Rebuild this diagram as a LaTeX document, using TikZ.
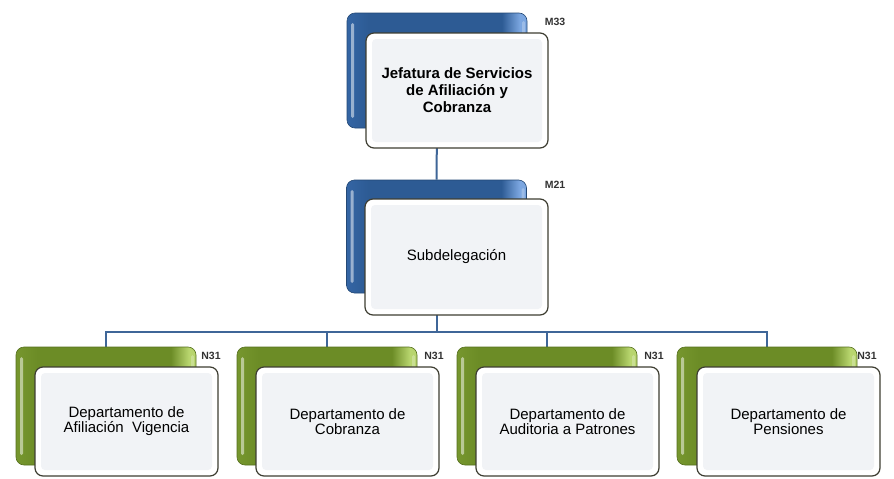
\documentclass[tikz,border=0pt]{standalone}
\usepackage{fontspec}
\setmainfont{Liberation Sans}
\pgfdeclarelayer{background}
\pgfsetlayers{background,main}
\definecolor{blueL}{HTML}{3465A4}
\definecolor{blueM}{HTML}{2D5B94}
\definecolor{blueR}{HTML}{7BA6E0}
\definecolor{greenL}{HTML}{76962E}
\definecolor{greenM}{HTML}{6C8C26}
\definecolor{greenR}{HTML}{B8D56E}
\definecolor{frameC}{HTML}{3E3E32}
\definecolor{innerC}{HTML}{F1F3F6}
\definecolor{lineC}{HTML}{3F6698}
\definecolor{lblC}{HTML}{333333}
\pgfdeclarehorizontalshading{bluesh}{100bp}{color(0bp)=(blueL); color(25bp)=(blueL);
  color(31bp)=(blueM); color(68bp)=(blueM); color(73bp)=(blueR); color(100bp)=(blueR)}
\pgfdeclarehorizontalshading{greensh}{100bp}{color(0bp)=(greenL); color(25bp)=(greenL);
  color(31bp)=(greenM); color(68bp)=(greenM); color(73bp)=(greenR); color(100bp)=(greenR)}
\begin{document}
\begin{tikzpicture}[x=1pt,y=-1pt,
  gloss/.style={path picture={
      \fill[white,opacity=0.5,rounded corners=1.5pt]
        ([xshift=4pt,yshift=-10pt]path picture bounding box.north west) rectangle
        ([xshift=7pt,yshift=10pt]path picture bounding box.south west);
      \fill[white,opacity=0.25,rounded corners=1.5pt]
        ([xshift=-5pt,yshift=-8pt]path picture bounding box.north east) rectangle
        ([xshift=-2pt,yshift=8pt]path picture bounding box.south east);}},
  bluebox/.style={gloss, rounded corners=8pt, inner sep=0pt, minimum width=180pt,
      minimum height=115pt, draw=blueM!80!black, line width=0.6pt, shading=bluesh},
  greenbox/.style={gloss, rounded corners=8pt, inner sep=0pt, minimum width=180pt,
      minimum height=118pt, draw=greenM!80!black, line width=0.6pt, shading=greensh},
  whitebox/.style={rounded corners=8pt, inner sep=0pt, minimum width=182pt,
      minimum height=115pt, draw=frameC, line width=1.2pt, fill=white, align=center,
      path picture={\fill[innerC,rounded corners=4pt]
        ([shift={(6pt,-6pt)}]path picture bounding box.north west) rectangle
        ([shift={(-6pt,6pt)}]path picture bounding box.south east);}},
  deptbox/.style={whitebox, minimum width=183pt, minimum height=109pt,
      font=\fontsize{15}{15}\selectfont},
  lbl/.style={font=\bfseries\fontsize{10.5}{12}\selectfont, text=lblC, inner sep=0pt},
  conn/.style={draw=lineC, line width=2pt}]
\useasboundingbox (0,0) rectangle (894,479);

% top
\node[bluebox] (b1) at (437,70.5) {};
\node[whitebox, font=\bfseries\fontsize{15}{17}\selectfont] (w1) at (457,90.5)
  {Jefatura de Servicios\\de Afiliación y\\Cobranza};
\node[lbl] (m33) at (555,22) {M33};

% middle
\node[bluebox, minimum height=113pt] (b2) at (436.5,236.5) {};
\node[whitebox, minimum width=183pt, minimum height=116pt,
      font=\fontsize{15}{17}\selectfont] (w2) at (456.5,257) {Subdelegación};
\node[lbl] (m21) at (555,185) {M21};

% bottom
\node[greenbox] (g1) at (106,406) {};
\node[greenbox] (g2) at (327,406) {};
\node[greenbox] (g3) at (547,406) {};
\node[greenbox] (g4) at (767,406) {};
\node[deptbox] (d1) at (126.5,421.5) {Departamento de\\Afiliación\ \ Vigencia};
\node[deptbox] (d2) at (347.5,421.5) {Departamento de\\Cobranza};
\node[deptbox] (d3) at (567.5,421.5) {Departamento de\\Auditoria a Patrones};
\node[deptbox] (d4) at (788.5,421.5) {Departamento de\\Pensiones};
\node[lbl] (n1) at (211,356) {N31};
\node[lbl] (n2) at (434,356) {N31};
\node[lbl] (n3) at (654,356) {N31};
\node[lbl] (n4) at (867,356) {N31};

\coordinate (hub) at (436.5,332);
\begin{pgfonlayer}{background}
  \fill[white] (0,0) rectangle (894,479);
  \draw[conn] (b1.south) -- (b2.north);
  \draw[conn] (b2.south) -- (hub);
  \foreach \i in {1,2,3,4} \draw[conn] (hub) -| (g\i.north);
\end{pgfonlayer}
\end{tikzpicture}
\end{document}
